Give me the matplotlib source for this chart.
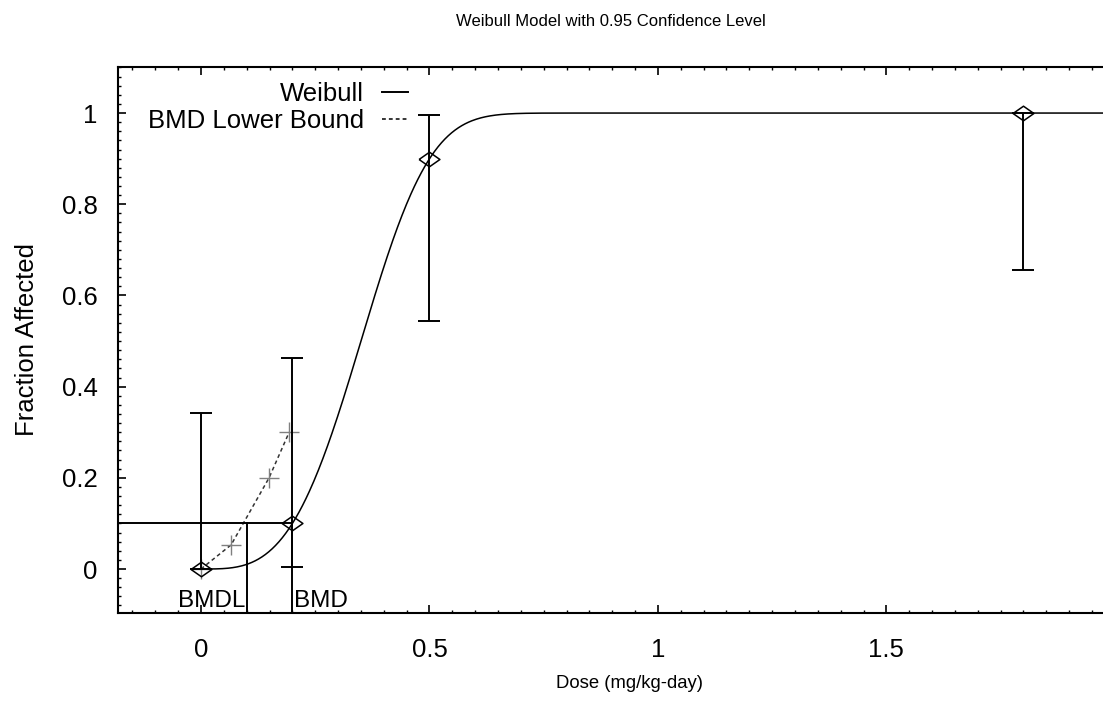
import matplotlib

matplotlib.use("Agg")
import matplotlib.pyplot as plt  # noqa: E402
import numpy as np  # noqa: E402
from matplotlib.lines import Line2D  # noqa: E402
from matplotlib.ticker import MultipleLocator  # noqa: E402

plt.rcParams["font.family"] = ["Liberation Sans", "DejaVu Sans"]

# observed data with 95% confidence limits
dose = [0.0, 0.2, 0.5, 1.8]
frac = [0.0, 0.1, 0.9, 1.0]
ci_lo = [0.0, 0.004, 0.544, 0.656]
ci_hi = [0.342, 0.463, 0.995, 1.0]

# fitted Weibull model: P(d) = 1 - exp(-slope * d^power)
weibull_slope = 23.7
weibull_power = 3.366

# BMD lower bound curve
bmdl_dose = [0.0, 0.066, 0.149, 0.193]
bmdl_frac = [0.0, 0.053, 0.2, 0.3]

bmr = 0.1
bmd = 0.2
bmdl = 0.1

xtick_vals = [0, 0.5, 1, 1.5]
xtick_labels = ["0", "0.5", "1", "1.5"]
ytick_vals = [0, 0.2, 0.4, 0.6, 0.8, 1.0]
ytick_labels = ["0", "0.2", "0.4", "0.6", "0.8", "1"]

XLIM = (-0.1816, 1.974)
YLIM = (-0.0965, 1.101)
BIG = 18.5

fig = plt.figure(figsize=(11.03, 7.02), dpi=100)
ax = fig.add_axes([118 / 1103, 89 / 702, 985 / 1103, 546 / 702])

xs = np.linspace(0, XLIM[1], 800)
ys = 1 - np.exp(-weibull_slope * xs ** weibull_power)
ax.plot(xs, ys, color="black", lw=1.1)

ax.plot(bmdl_dose, bmdl_frac, color="#333333", lw=1.1, ls=(0, (2.5, 2)))
ax.plot(bmdl_dose, bmdl_frac, ls="none", marker="+", ms=15, mew=1.0, color="#808080")

# error bars
yerr = [np.array(frac) - np.array(ci_lo), np.array(ci_hi) - np.array(frac)]
ax.errorbar(dose, frac, yerr=yerr, fmt="none", ecolor="black", elinewidth=1.4,
            capsize=8, capthick=1.4)

diamond = [(-1, 0), (0, 0.7), (1, 0), (0, -0.7), (-1, 0)]
ax.plot(dose, frac, ls="none", marker=diamond, ms=15, mfc="none", mec="black", mew=1.1)

# BMD / BMDL markers
ax.plot([XLIM[0], bmd], [bmr, bmr], color="black", lw=1.4)
ax.plot([bmdl, bmdl], [YLIM[0], bmr], color="black", lw=1.4)
ax.plot([bmd, bmd], [YLIM[0], bmr], color="black", lw=1.4)
ax.text(bmdl - 0.002, -0.083, "BMDL", ha="right", va="baseline", fontsize=17.5)
ax.text(bmd + 0.003, -0.083, "BMD", ha="left", va="baseline", fontsize=17.5)

ax.set_xlim(*XLIM)
ax.set_ylim(*YLIM)
ax.xaxis.set_minor_locator(MultipleLocator(0.05))
ax.yaxis.set_minor_locator(MultipleLocator(0.02))
ax.set_xticks(xtick_vals)
ax.set_xticklabels(xtick_labels)
ax.set_yticks(ytick_vals)
ax.set_yticklabels(ytick_labels)
ax.tick_params(which="both", direction="in", top=True, right=False, labelsize=BIG)
ax.tick_params(axis="x", which="major", length=6, width=1.2, pad=18)
ax.tick_params(axis="y", which="major", length=6, width=1.2, pad=14.5)
ax.tick_params(which="minor", length=2.5, width=1.0)
ax.spines["right"].set_visible(False)
for s in ("left", "top", "bottom"):
    ax.spines[s].set_linewidth(1.5)

ax.set_xlabel("Dose (mg/kg-day)", fontsize=13.3)
ax.xaxis.set_label_coords((629 - 118) / 985, (613 - 675) / 546)
ax.set_ylabel("Fraction Affected", fontsize=BIG, labelpad=16.5)
fig.text(611 / 1103, 1 - 22 / 702, "Weibull Model with 0.95 Confidence Level",
         ha="center", va="center", fontsize=12)

handles = [Line2D([], [], color="black", lw=1.4),
           Line2D([], [], color="black", lw=1.1, ls=(0, (2.5, 2)))]
ax.legend(handles, ["Weibull", "BMD Lower Bound"], loc="upper right",
          bbox_to_anchor=((408 - 118) / 985, (613 - 82) / 546), frameon=False,
          markerfirst=False, alignment="right", borderaxespad=0, borderpad=0,
          handlelength=1.0, handletextpad=0.7, labelspacing=0.1, fontsize=BIG)

fig.savefig("out.png", dpi=100)
